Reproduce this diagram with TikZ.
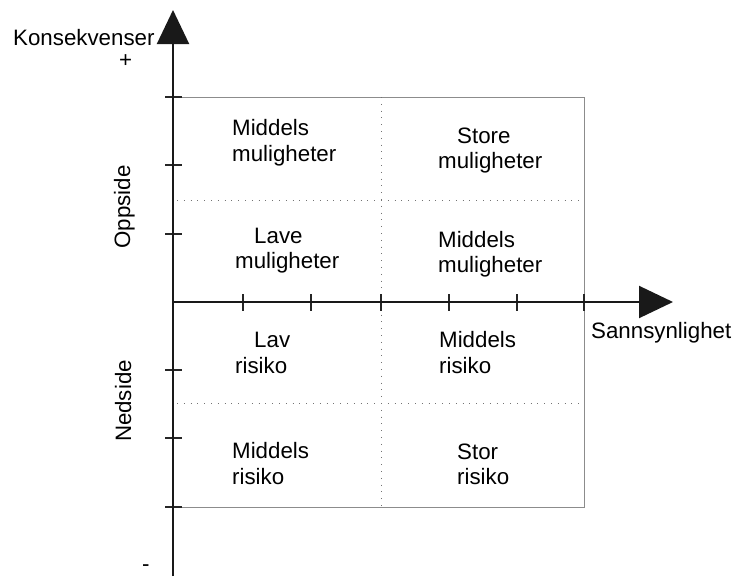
\documentclass[tikz,border=0pt]{standalone}
\usepackage{fontspec}
\setmainfont{Liberation Sans}
\usetikzlibrary{arrows.meta}
\begin{document}
\begin{tikzpicture}[x=1pt,y=-1pt,
  axis/.style={line width=2pt, draw=black!90, -{Triangle[length=34pt,width=32pt]}},
  tickmark/.style={line width=1.1pt, draw=black!85},
  frame/.style={line width=0.9pt, draw=black!45},
  gridline/.style={line width=1pt, draw=black!55, dash pattern=on 1pt off 5.8pt},
  lbl/.style={anchor=base west, inner sep=0pt, font=\fontsize{22.3}{26}\selectfont, text=black},
  sidelbl/.style={anchor=base, rotate=90, inner sep=0pt, font=\fontsize{22.3}{26}\selectfont, text=black}]
\useasboundingbox[fill=white] (0,0) rectangle (736,576);

% axis end points
\coordinate (O) at (173,302);
\coordinate (ytop) at (173,10);
\coordinate (ybot) at (173,576);
\coordinate (xend) at (673,302);

% outer frame of the four fields
\draw[frame] (173,97) rectangle (584,507);

% dotted dividers
\draw[gridline] (381,97) -- (381,507);
\draw[gridline] (177,200) -- (584,200);
\draw[gridline] (177,403) -- (584,403);

% tick marks
\foreach \ty in {97,165,234,370,438,507}
  \draw[tickmark] (165,\ty) -- (182,\ty);
\foreach \tx in {243,311,381,449,517,584}
  \draw[tickmark] (\tx,294) -- (\tx,311);

% axes
\draw[axis] (ybot) -- (ytop);
\draw[axis] (O) -- (xend);

% axis labels
\node[lbl] (konsekvenser) at (13,45) {Konsekvenser};
\node[lbl] (plus) at (119,67) {+};
\node[lbl] (minus) at (142,571) {-};
\node[lbl] (sannsynlighet) at (591,338) {Sannsynlighet};
\node[sidelbl] (oppside) at (130,207) {Oppside};
\node[sidelbl] (nedside) at (131,401) {Nedside};

% field texts
\node[lbl] (tl1) at (232,135) {Middels};
\node[lbl] (tl2) at (232,161) {muligheter};
\node[lbl] (tr1) at (457,143) {Store};
\node[lbl] (tr2) at (438,168) {muligheter};
\node[lbl] (ml1) at (254,243) {Lave};
\node[lbl] (ml2) at (235,268) {muligheter};
\node[lbl] (mr1) at (438,247) {Middels};
\node[lbl] (mr2) at (438,272) {muligheter};
\node[lbl] (ll1) at (254,347) {Lav};
\node[lbl] (ll2) at (235,373) {risiko};
\node[lbl] (lr1) at (439,347) {Middels};
\node[lbl] (lr2) at (439,373) {risiko};
\node[lbl] (bl1) at (232,458) {Middels};
\node[lbl] (bl2) at (232,484) {risiko};
\node[lbl] (br1) at (457,459) {Stor};
\node[lbl] (br2) at (457,484) {risiko};
\end{tikzpicture}
\end{document}
